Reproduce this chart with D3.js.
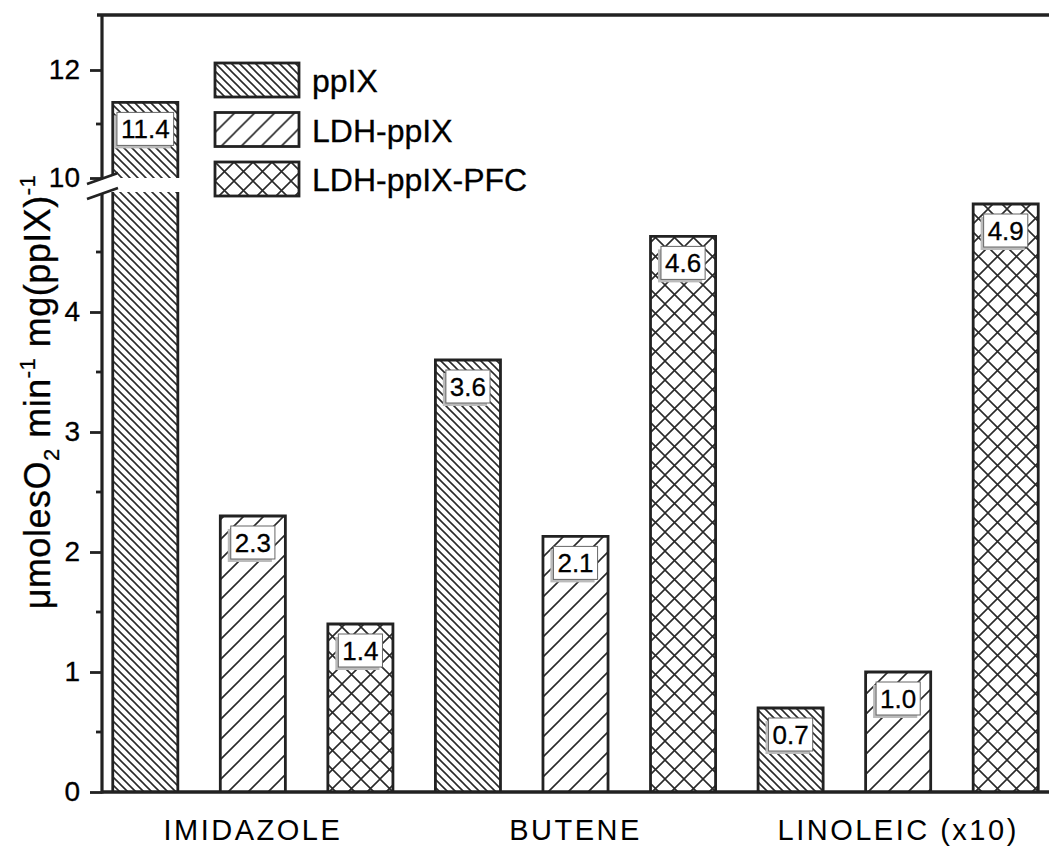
<!DOCTYPE html>
<html>
<head>
<meta charset="utf-8">
<script src="https://cdn.jsdelivr.net/npm/d3@7"></script>
<style>
  body { margin: 0; background: #fff; }
  text { font-family: Arial, "Liberation Sans", sans-serif; stroke: #000; stroke-width: 0.3px; }
</style>
</head>
<body>
<div class="container"></div>
<script>
// data
const groups = ["IMIDAZOLE", "BUTENE", "LINOLEIC (x10)"];
const seriesNames = ["ppIX", "LDH-ppIX", "LDH-ppIX-PFC"];
const ppIX = [11.4, 3.6, 0.7];
const ldhPpIX = [2.3, 2.13, 1.0];
const ldhPpIXPfc = [1.4, 4.63, 4.9];
const lowTicks = [0, 1, 2, 3, 4];
const lowMinor = [0.5, 1.5, 2.5, 3.5, 4.5];
const highTicks = [10, 12];
const highMinor = [11];

const seriesValues = [ppIX, ldhPpIX, ldhPpIXPfc];
const patternIds = ["hatchBack", "hatchFwd", "hatchCross"];

//size
const width = 1049;
const height = 848;
const axisX = 102;
const topY = 15;
const bottomY = 792;
const ink = "#222";

const svg = d3.select(".container")
  .append("svg")
  .attr("width", width)
  .attr("height", height);

//patterns
const defs = svg.append("defs");
function pattern(id, size, d) {
  defs.append("pattern")
    .attr("id", id)
    .attr("patternUnits", "userSpaceOnUse")
    .attr("width", size)
    .attr("height", size)
    .append("path")
    .attr("d", d)
    .attr("stroke", "#2a2a2a")
    .attr("stroke-width", 1.6)
    .attr("fill", "none");
}
pattern("hatchBack", 8, "M0,0L8,8M-2,6L2,10M6,-2L10,2");
pattern("hatchFwd", 20, "M0,20L20,0M-5,5L5,-5M15,25L25,15");
pattern("hatchCross", 19, "M0,0L19,19M19,0L0,19M-2,2L2,-2M17,21L21,17M-2,17L2,21M17,-2L21,2");

//scales
const yLow = d3.scaleLinear().domain([0, 5]).range([bottomY, 192]);
const yHigh = d3.scaleLinear().domain([10, 13]).range([178, 16]);

const bars = [];
groups.forEach((g, gi) => {
  seriesNames.forEach((s, si) => {
    bars.push({ key: g + "|" + s, group: g, series: si, value: seriesValues[si][gi] });
  });
});

const x = d3.scaleBand()
  .domain(bars.map((d) => d.key))
  .range([axisX, width])
  .paddingInner(0.395)
  .paddingOuter(0.1);

function yOf(v) {
  return v > 5 ? yHigh(v) : yLow(v);
}

//bars
const gBars = svg.append("g");
bars.forEach((d) => {
  const x0 = x(d.key);
  const w = x.bandwidth();
  const segs = d.value > 5
    ? [{ y0: yLow(0), y1: yLow(5), top: false }, { y0: yHigh(10), y1: yHigh(d.value), top: true }]
    : [{ y0: yLow(0), y1: yLow(d.value), top: true }];
  segs.forEach((s) => {
    gBars.append("rect")
      .attr("x", x0)
      .attr("y", s.y1)
      .attr("width", w)
      .attr("height", s.y0 - s.y1)
      .attr("fill", "url(#" + patternIds[d.series] + ")");
    const p = s.top
      ? `M${x0},${s.y0}L${x0},${s.y1}L${x0 + w},${s.y1}L${x0 + w},${s.y0}`
      : `M${x0},${s.y0}L${x0},${s.y1}M${x0 + w},${s.y1}L${x0 + w},${s.y0}`;
    gBars.append("path")
      .attr("d", p)
      .attr("fill", "none")
      .attr("stroke", ink)
      .attr("stroke-width", 2.8);
  });
});

//value labels
const gLabels = svg.append("g");
bars.forEach((d) => {
  const cx = x(d.key) + x.bandwidth() / 2;
  const top = yOf(d.value) + 10;
  const g = gLabels.append("g");
  const t = g.append("text")
    .attr("x", cx)
    .attr("y", top + 26)
    .attr("text-anchor", "middle")
    .attr("font-size", 26)
    .attr("fill", "#000")
    .text(d3.format(".1f")(d.value));
  const tw = t.node().getComputedTextLength();
  const bw = tw + 8;
  g.insert("rect", "text")
    .attr("x", cx - bw / 2 - 3)
    .attr("y", top + 3)
    .attr("width", bw)
    .attr("height", 33)
    .attr("fill", "#bbb");
  g.insert("rect", "text")
    .attr("x", cx - bw / 2)
    .attr("y", top)
    .attr("width", bw)
    .attr("height", 33)
    .attr("fill", "#fff")
    .attr("stroke", "#666")
    .attr("stroke-width", 1);
});

//axes
const axisLow = d3.axisLeft(yLow).tickValues(lowTicks).tickSize(12).tickPadding(10).tickFormat(d3.format("d"));
const axisHigh = d3.axisLeft(yHigh).tickValues(highTicks).tickSize(12).tickPadding(10).tickFormat(d3.format("d"));

function styleAxis(g) {
  g.select(".domain").remove();
  g.selectAll(".tick line").attr("stroke", ink).attr("stroke-width", 2.8);
  g.selectAll(".tick text")
    .attr("font-size", 28)
    .attr("font-family", "Arial, 'Liberation Sans', sans-serif")
    .attr("fill", "#000");
}

svg.append("g").attr("transform", `translate(${axisX},0)`).call(axisLow).call(styleAxis);
svg.append("g").attr("transform", `translate(${axisX},0)`).call(axisHigh).call(styleAxis);

svg.append("g").selectAll("line")
  .data(lowMinor)
  .join("line")
  .attr("x1", axisX - 6)
  .attr("x2", axisX)
  .attr("y1", (d) => yLow(d))
  .attr("y2", (d) => yLow(d))
  .attr("stroke", ink)
  .attr("stroke-width", 2.8);
svg.append("g").selectAll("line")
  .data(highMinor)
  .join("line")
  .attr("x1", axisX - 6)
  .attr("x2", axisX)
  .attr("y1", (d) => yHigh(d))
  .attr("y2", (d) => yHigh(d))
  .attr("stroke", ink)
  .attr("stroke-width", 2.8);

//frame lines
svg.append("line")
  .attr("x1", axisX).attr("x2", axisX)
  .attr("y1", topY).attr("y2", bottomY + 1.5)
  .attr("stroke", ink).attr("stroke-width", 3.2);
svg.append("line")
  .attr("x1", axisX - 5).attr("x2", width)
  .attr("y1", topY).attr("y2", topY)
  .attr("stroke", ink).attr("stroke-width", 3.5);
svg.append("line")
  .attr("x1", axisX).attr("x2", width)
  .attr("y1", bottomY).attr("y2", bottomY)
  .attr("stroke", ink).attr("stroke-width", 3.5);

//break marks
const bk = svg.append("g");
bk.append("path")
  .attr("d", "M86,185L118,174L118,188L86,199Z")
  .attr("fill", "#fff");
bk.append("path")
  .attr("d", "M87,184L118,173M87,199L118,188")
  .attr("stroke", ink)
  .attr("stroke-width", 2.8);

//group labels
svg.append("g").selectAll("text")
  .data(groups)
  .join("text")
  .attr("x", (g) => x(g + "|" + seriesNames[1]) + x.bandwidth() / 2)
  .attr("y", 840)
  .attr("text-anchor", "middle")
  .attr("font-size", 29)
  .attr("letter-spacing", 2.5)
  .attr("fill", "#000")
  .style("stroke-width", "0px")
  .text((g) => g);

//y title
const title = svg.append("text")
  .attr("transform", "translate(50,392) rotate(-90)")
  .attr("text-anchor", "middle")
  .attr("font-size", 36)
  .attr("letter-spacing", 0.5)
  .attr("fill", "#000");
title.append("tspan").text("μmolesO");
title.append("tspan").attr("font-size", 22).attr("dy", 9).text("2");
title.append("tspan").attr("dy", -9).text(" min");
title.append("tspan").attr("font-size", 22).attr("dy", -15).text("-1");
title.append("tspan").attr("dy", 15).text(" mg(ppIX)");
title.append("tspan").attr("font-size", 22).attr("dy", -15).text("-1");

//legend
const legend = svg.append("g").attr("transform", "translate(215,63)");
const items = legend.selectAll("g")
  .data(seriesNames)
  .join("g")
  .attr("transform", (d, i) => `translate(0,${i * 49.5})`);
items.append("rect")
  .attr("width", 84)
  .attr("height", 34)
  .attr("fill", (d, i) => "url(#" + patternIds[i] + ")")
  .attr("stroke", ink)
  .attr("stroke-width", 2.8);
items.append("text")
  .attr("x", 97)
  .attr("y", 29)
  .attr("font-size", 32)
  .attr("fill", "#000")
  .text((d) => d);
</script>
</body>
</html>
